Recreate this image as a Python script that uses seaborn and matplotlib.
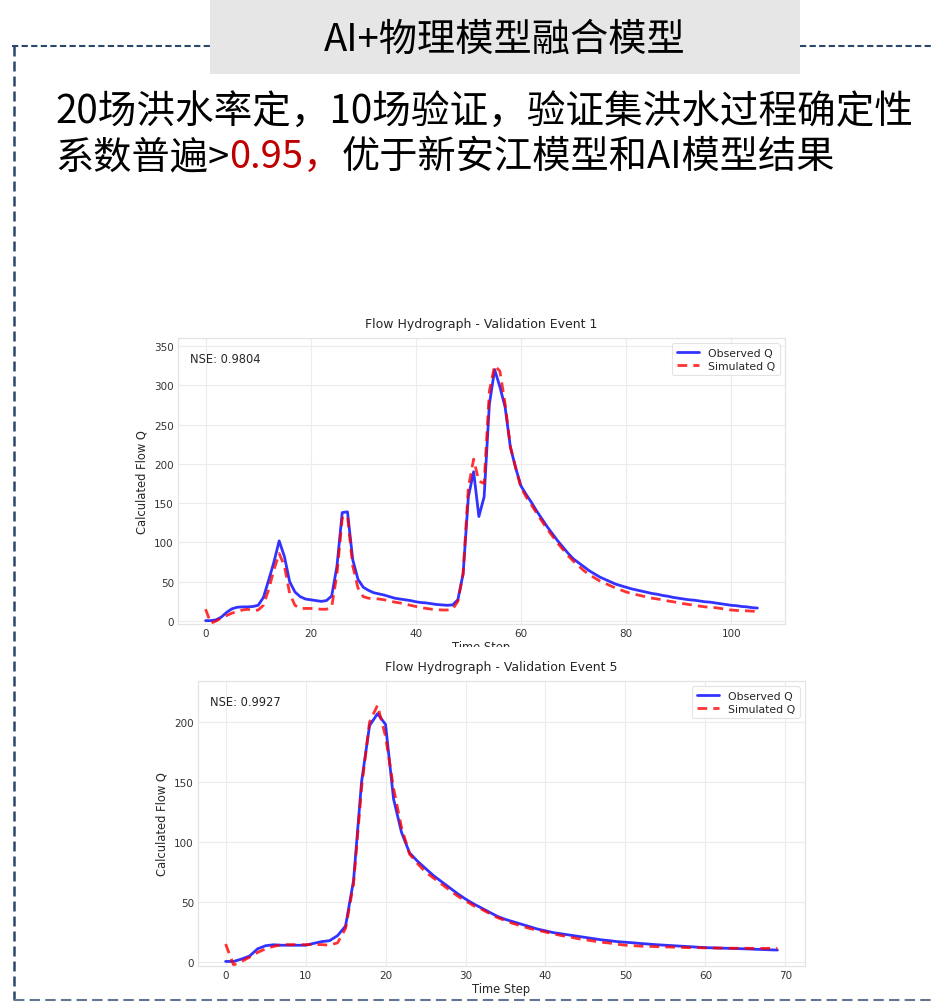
import numpy as np
import pandas as pd
import matplotlib
matplotlib.use("Agg")
import matplotlib.pyplot as plt
from matplotlib.patches import Rectangle
from matplotlib.lines import Line2D
import seaborn as sns

# ---- Validation event 1: observed vs simulated discharge ----
event1_obs = [
    0.5, 0.5, 1.5, 5, 11, 15.5, 17.5, 18, 18, 18.5,
    20, 30, 52, 75, 102, 82, 50, 37, 31, 28,
    27, 26, 25, 26, 32, 70, 138, 139, 78, 53,
    43, 39, 36, 34.5, 33, 31, 29, 28, 27, 26,
    24.5, 23.5, 23, 22, 21, 20.5, 20, 20.5, 27, 60,
    158, 190, 133, 158, 276, 320, 298, 272, 221, 195,
    172, 161, 151, 140, 130, 120, 111, 102, 94, 86,
    79, 74, 69, 64, 60, 56, 53, 50, 47, 45,
    43, 41, 39.5, 38, 36.5, 35, 34, 32.5, 31.5, 30,
    29, 28, 27, 26.5, 25.5, 24.5, 24, 23, 22, 21,
    20, 19.5, 18.5, 18, 17, 16.5,
]
event1_sim = [
    15, -3, 0, 4, 7, 10, 12, 14, 15, 13,
    14, 20, 40, 65, 86, 70, 35, 20, 16, 16,
    16, 15.5, 15, 15, 18, 60, 131, 134, 70, 42,
    31, 29, 28.5, 28, 27, 25.5, 24, 23, 21.5, 20,
    18.5, 17, 16, 15, 14.5, 14, 14, 15, 25, 60,
    170, 206, 178, 175, 293, 325, 318, 276, 222, 195,
    170, 158, 148, 137, 127, 117, 108, 99, 91, 83,
    76, 70, 64, 59, 55, 51, 48, 45, 42, 39.5,
    37, 35, 33.5, 32, 30.5, 29, 28, 27, 25.5, 24.5,
    23, 22, 21, 20, 19, 18, 17.5, 17, 16, 15,
    14, 13.5, 13, 13, 12.5, 12.5,
]

# ---- Validation event 5 ----
event5_obs = [
    0.5, 0.5, 2.5, 5, 11, 13.6, 14.4, 14, 14, 14,
    14, 15.5, 17, 17.8, 22, 30, 68, 150, 197, 207,
    198, 136, 108, 91, 84, 78, 72, 67, 62, 57,
    52.5, 48.5, 45, 41.5, 38, 35.5, 33.5, 31.5, 29.5, 27.5,
    26, 24.5, 23.5, 22.5, 21.5, 20.5, 19.5, 18.5, 17.8, 17,
    16.5, 16, 15.4, 14.9, 14.4, 14, 13.6, 13.2, 12.8, 12.4,
    12, 11.8, 11.6, 11.4, 11.2, 11, 10.7, 10.5, 10.2, 10,
]
event5_sim = [
    15, -2.5, 0.5, 4, 8, 11, 13, 14.5, 14.5, 14.5,
    14.5, 14.5, 14.5, 14, 16, 28, 65, 145, 200, 214,
    188, 145, 112, 90, 82, 75, 70, 65, 60, 55,
    51, 47, 44, 40.5, 37, 34.5, 32, 30, 28, 26.5,
    25, 23.5, 22, 21, 19.5, 18.6, 17.5, 16.5, 15.8, 14.8,
    14, 13.6, 13.2, 13, 12.8, 12.6, 12.4, 12.2, 12, 12,
    11.8, 11.7, 11.6, 11.5, 11.5, 11.5, 11.4, 11.4, 11.4, 11.4,
]
nse_values = {"1": 0.9804, "5": 0.9927}

header_title = "AI+物理模型融合模型"
body_line1 = "20场洪水率定，10场验证，验证集洪水过程确定性"
body_line2 = [("系数普遍>", "black"), ("0.95，", "#c00000"),
              ("优于新安江模型和AI模型结果", "black")]

W, H = 932, 1003
CJK = ["Noto Sans CJK SC", "DejaVu Sans"]

sns.set_theme(style="whitegrid")
plt.rcParams["font.family"] = ["DejaVu Sans"]

fig = plt.figure(figsize=(W / 100, H / 100), dpi=100)
fig.patch.set_facecolor("white")


def fx(px):
    return px / W


def fy(py):
    return 1 - py / H


# ---- slide header ----
fig.patches.append(Rectangle((fx(210), fy(75)), fx(800) - fx(210), 75 / H,
                             transform=fig.transFigure, facecolor="#e6e6e6",
                             edgecolor="none", zorder=1))
fig.text(fx(505), fy(51), header_title, family=CJK, fontsize=27.5,
         ha="center", va="baseline", color="black", zorder=4)

# dashed frame around the content
frame_dark = "#2c4868"
for xs, ys, col, lw, pat in [
    ([12, 210], [47, 47], frame_dark, 1.5, (3, 1.6)),
    ([800, 932], [47, 47], frame_dark, 1.5, (3, 1.6)),
    ([14, 14], [47, 1001], frame_dark, 1.8, (4, 2)),
    ([14, 932], [1001, 1001], "#5f7892", 1.5, (5, 2.5)),
]:
    fig.lines.append(Line2D([fx(v) for v in xs], [fy(v) for v in ys],
                            transform=fig.transFigure, color=col, lw=lw,
                            linestyle=(0, pat), zorder=5))

# ---- body text ----
renderer = fig.canvas.get_renderer()
fig.text(fx(55), fy(123), body_line1, family=CJK, fontsize=27.8,
         ha="left", va="baseline", color="black", zorder=4)
x_cursor = 55
for piece, col in body_line2:
    t = fig.text(fx(x_cursor), fy(168), piece, family=CJK, fontsize=27.5,
                 ha="left", va="baseline", color=col, zorder=4)
    x_cursor += t.get_window_extent(renderer=renderer).width


# ---- hydrograph panels ----
def hydrograph(ax, obs, sim, event, nse, ylim):
    steps = np.arange(len(obs))
    df = pd.DataFrame({"step": steps, "obs": obs, "sim": sim})
    sns.lineplot(data=df, x="step", y="obs", ax=ax, color="blue", alpha=0.8,
                 lw=2.0, label="Observed Q")
    sns.lineplot(data=df, x="step", y="sim", ax=ax, color="red", alpha=0.8,
                 lw=2.0, linestyle=(0, (3.5, 2.2)), label="Simulated Q")
    ax.set_ylim(*ylim)
    ax.set_facecolor("white")
    ax.grid(True, color="#ececec", lw=0.8)
    for s in ax.spines.values():
        s.set_color("#e4e4e4")
        s.set_linewidth(0.9)
    ax.tick_params(labelsize=7.5, labelcolor="#333333", pad=3, length=0)
    ax.set_title(f"Flow Hydrograph - Validation Event {event}", fontsize=9,
                 color="#262626", pad=8)
    ax.set_xlabel("Time Step", fontsize=8.3, color="#262626", labelpad=1)
    ax.set_ylabel("Calculated Flow Q", fontsize=8.3, color="#262626",
                  labelpad=4)
    ax.text(0.02, 0.95, f"NSE: {nse:.4f}", transform=ax.transAxes,
            fontsize=8.3, color="#262626", va="top", ha="left")
    leg = ax.legend(loc="upper right", fontsize=7.8, frameon=True,
                    fancybox=True, borderpad=0.4, labelspacing=0.3,
                    handlelength=2.1, handletextpad=0.8)
    leg.get_frame().set_edgecolor("#dddddd")
    leg.get_frame().set_facecolor("white")
    leg.get_frame().set_linewidth(0.8)
    for txt in leg.get_texts():
        txt.set_color("#262626")


ax1 = fig.add_axes([fx(178), fy(625), (785 - 178) / W, (625 - 339) / H])
ax1.set_zorder(0)
hydrograph(ax1, event1_obs, event1_sim, 1, nse_values["1"], (-3.8, 360.2))
ax1.set_yticks(np.arange(0, 351, 50))

# the lower panel sits on top of the upper panel's axis caption
fig.patches.append(Rectangle((fx(20), fy(682)), 1 - fx(20), (682 - 648) / H,
                             transform=fig.transFigure, facecolor="white",
                             edgecolor="none", zorder=1))

ax2 = fig.add_axes([fx(198), fy(967), (805 - 198) / W, (967 - 682) / H])
ax2.set_zorder(2)
hydrograph(ax2, event5_obs, event5_sim, 5, nse_values["5"], (-3.3, 234.2))
ax2.set_yticks(np.arange(0, 201, 50))

fig.savefig("out.png", dpi=100, facecolor="white")
